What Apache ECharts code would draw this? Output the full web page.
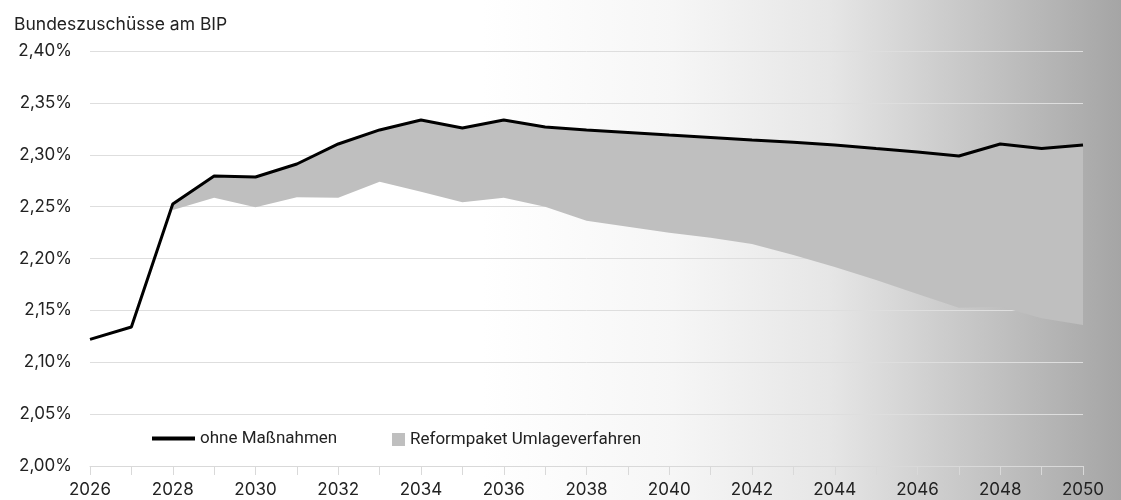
<!DOCTYPE html>
<html>
<head>
<meta charset="utf-8">
<script src="https://cdn.jsdelivr.net/npm/echarts@6/dist/echarts.min.js"></script>
<style>
html,body{margin:0;padding:0;background:#fff;}
#chart{width:1121px;height:500px;}
</style>
</head>
<body>
<div id="chart"></div>
<script>
const years = ['2026','2027','2028','2029','2030','2031','2032','2033','2034','2035','2036','2037','2038','2039','2040','2041','2042','2043','2044','2045','2046','2047','2048','2049','2050'];
const ohneMassnahmen = [2.122,2.134,2.2525,2.2795,2.2786,2.2911,2.3104,2.3239,2.3335,2.3258,2.3335,2.3267,2.3239,2.3215,2.319,2.3166,2.3142,2.312,2.3094,2.306,2.3027,2.2988,2.3104,2.306,2.3094];
const reformpaket = [null,null,2.2467,2.2586,2.2493,2.259,2.2586,2.274,2.2644,2.2542,2.2586,2.2499,2.2364,2.2307,2.2249,2.22,2.214,2.2034,2.1918,2.1793,2.1658,2.1526,2.1536,2.1424,2.1359];
const yTicks = [2.00,2.05,2.10,2.15,2.20,2.25,2.30,2.35,2.40];

const bandBase = reformpaket.map(v => v == null ? '-' : v);
const bandWidth = reformpaket.map((v, i) => v == null ? '-' : +(ohneMassnahmen[i] - v).toFixed(5));

const chart = echarts.init(document.getElementById('chart'));
const font = 'Inter, "Noto Sans", sans-serif';
chart.setOption({
  animation: false,
  graphic: [{
    type: 'rect', z: -100, silent: true,
    shape: {x: 0, y: 0, width: 1121, height: 500},
    style: {fill: new echarts.graphic.LinearGradient(0, 0, 1, 0, [
      {offset: 0, color: '#ffffff'},
      {offset: 0.43, color: '#ffffff'},
      {offset: 0.6, color: '#f6f6f6'},
      {offset: 0.74, color: '#e6e6e6'},
      {offset: 0.86, color: '#c8c8c8'},
      {offset: 0.94, color: '#b4b4b4'},
      {offset: 1, color: '#a5a5a5'}
    ])}
  }],
  title: {
    text: 'Bundeszuschüsse am BIP', left: 9, top: 11,
    textStyle: {fontFamily: font, fontSize: 17.5, fontWeight: 'normal', color: '#222'}
  },
  legend: [{
    data: ['ohne Maßnahmen'], left: 147, top: 425, icon: 'rect',
    itemWidth: 43, itemHeight: 4, itemGap: 20,
    textStyle: {fontFamily: '"Roboto", sans-serif', fontSize: 17, color: '#222'}
  }, {
    data: ['Reformpaket Umlageverfahren'], left: 387, top: 426, icon: 'rect',
    itemWidth: 13, itemHeight: 13,
    textStyle: {fontFamily: '"Roboto", sans-serif', fontSize: 17, color: '#222'}
  }],
  grid: {left: 90, right: 38, top: 51, bottom: 34},
  xAxis: {
    type: 'category', data: years, boundaryGap: false,
    axisLine: {lineStyle: {color: '#d9d9d9', width: 1}},
    axisTick: {show: true, interval: 0, length: 9, lineStyle: {color: '#d9d9d9'}},
    axisLabel: {interval: 1, fontFamily: font, fontSize: 17, color: '#222', margin: 15}
  },
  yAxis: {
    type: 'value', min: 2.00, max: 2.40, interval: 0.05,
    axisLine: {show: false}, axisTick: {show: false},
    splitLine: {lineStyle: {color: '#dedede', width: 1}},
    axisLabel: {fontFamily: font, fontSize: 17, color: '#222', margin: 18,
      formatter: v => v.toFixed(2).replace('.', ',') + '%'}
  },
  series: [{
    name: 'base', type: 'line', stack: 'band', data: bandBase,
    symbol: 'none', lineStyle: {opacity: 0}, silent: true, z: 1
  }, {
    name: 'Reformpaket Umlageverfahren', type: 'line', stack: 'band', data: bandWidth,
    symbol: 'none', lineStyle: {opacity: 0}, itemStyle: {color: '#bfbfbf'},
    areaStyle: {color: '#bfbfbf', opacity: 1}, z: 2
  }, {
    name: 'ohne Maßnahmen', type: 'line', data: ohneMassnahmen,
    symbol: 'none', itemStyle: {color: '#000'},
    lineStyle: {color: '#000', width: 3}, z: 3
  }]
});
</script>
</body>
</html>
